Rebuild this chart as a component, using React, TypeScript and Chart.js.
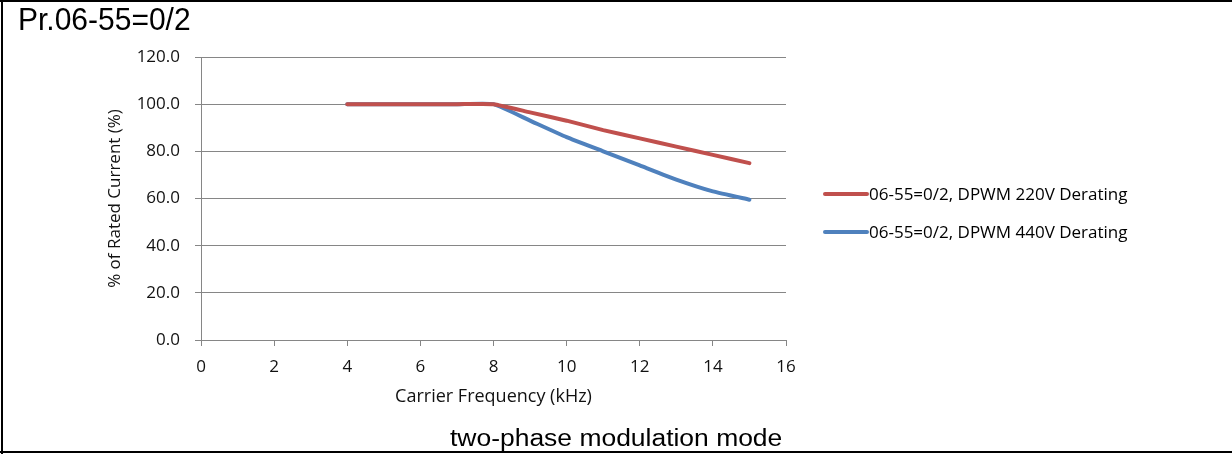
import React, { useEffect, useRef } from "react";
import { Chart, registerables } from "chart.js";

Chart.register(...registerables);

// ---- data ----
const frequencies = [4, 5, 6, 7, 8, 9, 10, 11, 12, 13, 14, 15];
const derating220 = [100, 100, 100, 100, 100, 96.5, 93, 89, 85.5, 82, 78.5, 75];
const derating440 = [100, 100, 100, 100, 100, 93, 86, 80, 74, 68, 63, 59.5];
const seriesLabels = [
  "06-55=0/2, DPWM 220V Derating",
  "06-55=0/2, DPWM 440V Derating",
];
const seriesColors = ["#C0504D", "#4F81BD"];
const xTickValues = [0, 2, 4, 6, 8, 10, 12, 14, 16];
const yTickValues = [0, 20, 40, 60, 80, 100, 120];
const titleText = "Pr.06-55=0/2";
const captionText = "two-phase modulation mode";
const xAxisTitle = "Carrier Frequency (kHz)";
const yAxisTitle = "% of Rated Current (%)";

const FONT = '"Open Sans", "Noto Sans", sans-serif';

const sideLegend = {
  id: "sideLegend",
  afterDraw(chart: any) {
    const ctx = chart.ctx as CanvasRenderingContext2D;
    const x0 = 825;
    const lineLen = 42;
    const gap = 2;
    const yStart = 194;
    const step = 38;
    ctx.save();
    ctx.font = `17px ${FONT}`;
    ctx.textBaseline = "middle";
    ctx.textAlign = "left";
    chart.data.datasets.forEach((d: any, i: number) => {
      const y = yStart + i * step;
      ctx.strokeStyle = d.borderColor;
      ctx.lineWidth = 4;
      ctx.lineCap = "round";
      ctx.beginPath();
      ctx.moveTo(x0, y);
      ctx.lineTo(x0 + lineLen, y);
      ctx.stroke();
      ctx.fillStyle = "#000";
      ctx.fillText(d.label, x0 + lineLen + gap, y + 1);
    });
    ctx.restore();
  },
};

export default function App() {
  const ref = useRef<HTMLCanvasElement | null>(null);

  useEffect(() => {
    document.body.style.margin = "0";
    if (!ref.current) return;
    const toPts = (ys: number[]) => frequencies.map((x, i) => ({ x, y: ys[i] }));
    const chart = new Chart(ref.current, {
      type: "line",
      data: {
        datasets: [
          {
            label: seriesLabels[0],
            data: toPts(derating220),
            borderColor: seriesColors[0],
            backgroundColor: seriesColors[0],
            borderWidth: 4,
            pointRadius: 0,
            tension: 0.15,
            borderCapStyle: "round",
          },
          {
            label: seriesLabels[1],
            data: toPts(derating440),
            borderColor: seriesColors[1],
            backgroundColor: seriesColors[1],
            borderWidth: 4,
            pointRadius: 0,
            tension: 0.15,
            borderCapStyle: "round",
          },
        ],
      },
      options: {
        responsive: false,
        animation: false,
        layout: { padding: { left: 90, top: 57, right: 446, bottom: 0 } },
        plugins: {
          legend: { display: false },
          tooltip: { enabled: false },
        },
        scales: {
          x: {
            type: "linear",
            min: 0,
            max: 16,
            afterFit: (s: any) => {
              s.height = 114;
            },
            afterBuildTicks: (s: any) => {
              s.ticks = xTickValues.map((v) => ({ value: v }));
            },
            ticks: {
              font: { family: FONT, size: 17 },
              color: "#111",
              padding: 11,
              maxRotation: 0,
            },
            grid: {
              drawOnChartArea: false,
              drawTicks: true,
              tickLength: 6,
              color: "#868686",
            },
            border: { color: "#868686", width: 1 },
            title: {
              display: true,
              text: xAxisTitle,
              font: { family: FONT, size: 18 },
              color: "#111",
              padding: { top: 0, bottom: 46 },
            },
          },
          y: {
            type: "linear",
            min: 0,
            max: 120,
            afterFit: (s: any) => {
              s.width = 111;
            },
            afterBuildTicks: (s: any) => {
              s.ticks = yTickValues.map((v) => ({ value: v }));
            },
            ticks: {
              font: { family: FONT, size: 17 },
              color: "#111",
              padding: 15,
              callback: (v: any) => Number(v).toFixed(1),
            },
            grid: {
              drawOnChartArea: true,
              drawTicks: true,
              tickLength: 6,
              color: "#868686",
            },
            border: { color: "#868686", width: 1 },
            title: {
              display: true,
              text: yAxisTitle,
              font: { family: FONT, size: 17 },
              color: "#111",
              padding: { top: 15, bottom: 0 },
            },
          },
        },
      },
      plugins: [sideLegend],
    } as any);
    return () => chart.destroy();
  }, []);

  return (
    <div
      style={{
        position: "fixed",
        left: 0,
        top: 0,
        width: 1232,
        height: 454,
        background: "#fff",
        overflow: "hidden",
      }}
    >
      <canvas ref={ref} width={1232} height={454} style={{ position: "absolute", left: 0, top: 0 }} />
      <div style={{ position: "absolute", left: 0, top: 0, width: 1232, height: 2, background: "#000" }} />
      <div style={{ position: "absolute", left: 1, top: 0, width: 2, height: 454, background: "#000" }} />
      <div style={{ position: "absolute", left: 0, top: 451, width: 1232, height: 2, background: "#000" }} />
      <div
        style={{
          position: "absolute",
          left: 18,
          top: 5,
          fontFamily: '"Liberation Sans", Arial, sans-serif',
          fontSize: 30,
          lineHeight: "30px",
          whiteSpace: "nowrap",
          color: "#000",
          transform: "scaleY(1.07)",
          transformOrigin: "0 25px",
        }}
      >
        {titleText}
      </div>
      <div
        style={{
          position: "absolute",
          left: 450,
          top: 427,
          fontFamily: '"Liberation Sans", Arial, sans-serif',
          fontSize: 23,
          lineHeight: "23px",
          whiteSpace: "nowrap",
          color: "#000",
          transform: "scaleX(1.15)",
          transformOrigin: "0 0",
        }}
      >
        {captionText}
      </div>
    </div>
  );
}
